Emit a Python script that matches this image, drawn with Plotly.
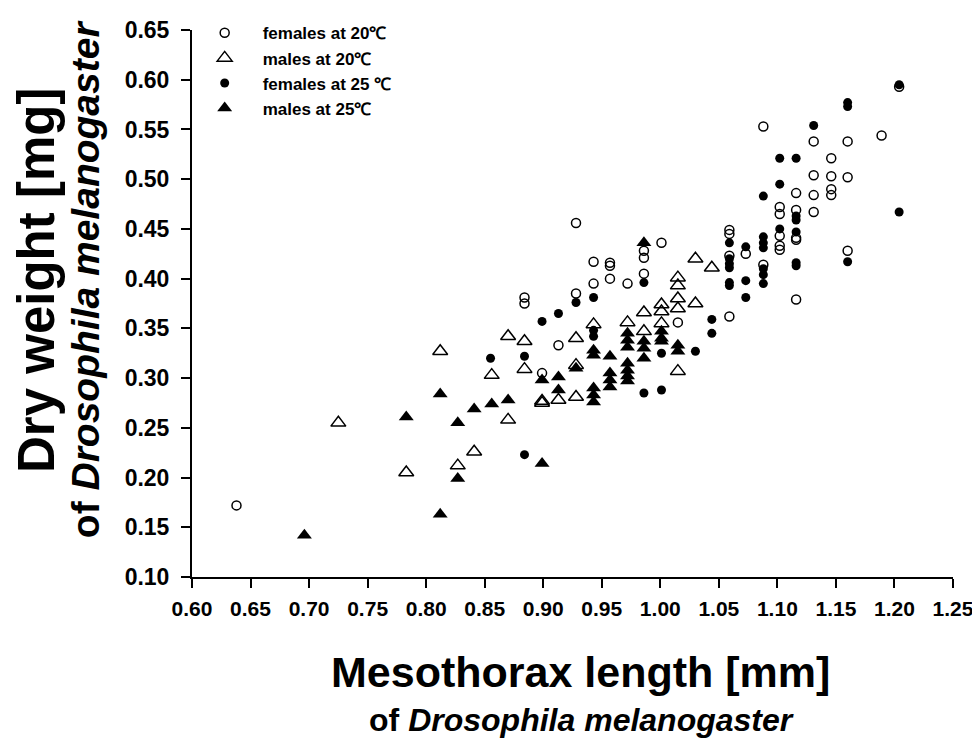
import plotly.graph_objects as go

# mesothorax length [mm] vs dry weight [mg]
f20_x = [0.638, 0.884, 0.884, 0.899, 0.913, 0.928, 0.928, 0.943, 0.943, 0.957, 0.957, 0.957,
         0.972, 0.986, 0.986, 0.986, 1.001, 1.015, 1.059, 1.059, 1.059, 1.059, 1.073,
         1.088, 1.088, 1.102, 1.102, 1.102, 1.102, 1.102, 1.116, 1.116, 1.116, 1.116, 1.116,
         1.131, 1.131, 1.131, 1.131, 1.146, 1.146, 1.146, 1.146, 1.160, 1.160, 1.160,
         1.189, 1.204]
f20_y = [0.172, 0.381, 0.375, 0.305, 0.333, 0.456, 0.385, 0.417, 0.395, 0.416, 0.413, 0.400,
         0.395, 0.428, 0.421, 0.405, 0.436, 0.356, 0.449, 0.445, 0.423, 0.362, 0.425,
         0.553, 0.414, 0.472, 0.465, 0.443, 0.433, 0.429, 0.486, 0.469, 0.441, 0.439, 0.379,
         0.538, 0.504, 0.484, 0.467, 0.521, 0.503, 0.490, 0.484, 0.538, 0.502, 0.428,
         0.544, 0.593]

m20_x = [0.725, 0.783, 0.812, 0.827, 0.841, 0.856, 0.870, 0.870, 0.884, 0.884, 0.899, 0.899,
         0.913, 0.928, 0.928, 0.928, 0.943, 0.972, 0.986, 0.986, 1.001, 1.001, 1.001,
         1.015, 1.015, 1.015, 1.015, 1.015, 1.030, 1.030, 1.044]
m20_y = [0.255, 0.205, 0.327, 0.212, 0.226, 0.303, 0.342, 0.258, 0.337, 0.309, 0.277, 0.275,
         0.278, 0.340, 0.313, 0.281, 0.354, 0.356, 0.366, 0.347, 0.374, 0.367, 0.355,
         0.401, 0.393, 0.380, 0.370, 0.307, 0.420, 0.375, 0.411]

f25_x = [0.855, 0.884, 0.884, 0.899, 0.913, 0.928, 0.943, 0.943, 0.943, 0.986, 0.986,
         1.001, 1.001, 1.030, 1.044, 1.044, 1.059, 1.059, 1.059, 1.059, 1.059, 1.059,
         1.073, 1.073, 1.073, 1.088, 1.088, 1.088, 1.088, 1.088, 1.088, 1.088,
         1.102, 1.102, 1.102, 1.116, 1.116, 1.116, 1.116, 1.116, 1.116, 1.131,
         1.160, 1.160, 1.160, 1.204, 1.204]
f25_y = [0.320, 0.322, 0.223, 0.357, 0.365, 0.376, 0.381, 0.348, 0.342, 0.396, 0.285,
         0.325, 0.288, 0.327, 0.359, 0.345, 0.436, 0.420, 0.415, 0.411, 0.396, 0.393,
         0.432, 0.398, 0.381, 0.483, 0.442, 0.436, 0.431, 0.410, 0.404, 0.395,
         0.521, 0.495, 0.450, 0.521, 0.463, 0.459, 0.447, 0.416, 0.413, 0.554,
         0.577, 0.573, 0.417, 0.595, 0.467]

m25_x = [0.696, 0.783, 0.812, 0.812, 0.827, 0.827, 0.841, 0.856, 0.870, 0.899, 0.899,
         0.913, 0.913, 0.928, 0.943, 0.943, 0.943, 0.943, 0.943, 0.957, 0.957, 0.957, 0.957,
         0.972, 0.972, 0.972, 0.972, 0.972, 0.972, 0.972, 0.986, 0.986, 0.986, 0.986,
         1.001, 1.001, 1.001, 1.015, 1.015]
m25_y = [0.142, 0.261, 0.284, 0.163, 0.255, 0.199, 0.269, 0.274, 0.278, 0.298, 0.214,
         0.301, 0.288, 0.310, 0.328, 0.323, 0.290, 0.283, 0.276, 0.322, 0.305, 0.298, 0.291,
         0.345, 0.338, 0.331, 0.315, 0.308, 0.302, 0.297, 0.436, 0.337, 0.330, 0.320,
         0.347, 0.340, 0.337, 0.333, 0.327]

FONT = "Liberation Sans, Arial, sans-serif"

fig = go.Figure()
fig.add_trace(go.Scatter(x=f20_x, y=f20_y, mode="markers", name="females at 20℃",
                         marker=dict(symbol="circle-open", size=9, color="black", line=dict(width=1.5))))
fig.add_trace(go.Scatter(x=m20_x, y=m20_y, mode="markers", name="males at 20℃",
                         marker=dict(symbol="triangle-up-open", size=13, color="black", line=dict(width=1.5))))
fig.add_trace(go.Scatter(x=f25_x, y=f25_y, mode="markers", name="females at 25 ℃",
                         marker=dict(symbol="circle", size=9, color="black")))
fig.add_trace(go.Scatter(x=m25_x, y=m25_y, mode="markers", name="males at 25℃",
                         marker=dict(symbol="triangle-up", size=13, color="black")))
fig.update_traces(cliponaxis=False)

axis_style = dict(showgrid=False, zeroline=False, showline=True, linecolor="black", linewidth=2,
                  ticks="outside", ticklen=9, tickwidth=2, tickcolor="black", dtick=0.05,
                  tickformat=".2f", automargin=False)

fig.update_xaxes(range=[0.60, 1.25], tick0=0.60, ticklabelstandoff=3,
                 tickfont=dict(family=FONT, size=21, color="black", weight="bold"), **axis_style)
fig.update_yaxes(range=[0.10, 0.65], tick0=0.10, ticklabelstandoff=7,
                 tickfont=dict(family=FONT, size=23, color="black", weight="bold"), **axis_style)

fig.add_annotation(xref="paper", yref="paper", x=0.51, y=-0.212, xanchor="center", yanchor="middle",
                   showarrow=False,
                   text="<span style='font-size:43px'>Mesothorax length [mm]</span><br>"
                        "<span style='font-size:32px'>of <i>Drosophila melanogaster</i></span>",
                   font=dict(family=FONT, size=34, color="black", weight="bold"))
fig.add_annotation(xref="paper", yref="paper", x=-0.177, y=0.545, xanchor="center", yanchor="middle",
                   showarrow=False, textangle=-90,
                   text="<span style='font-size:51px'>Dry weight [mg]</span><br>"
                        "<span style='font-size:39px'>of <i>Drosophila melanogaster</i></span>",
                   font=dict(family=FONT, size=34, color="black", weight="bold"))

fig.update_layout(
    width=980, height=740,
    margin=dict(l=184, r=35, t=22, b=171, autoexpand=False),
    paper_bgcolor="white", plot_bgcolor="white",
    showlegend=True,
    legend=dict(x=-0.007, y=1.027, xanchor="left", yanchor="top", bgcolor="rgba(0,0,0,0)",
                font=dict(family=FONT, size=17, color="black", weight="bold"),
                tracegroupgap=0, itemwidth=66),
)

fig.write_html("out.html")
